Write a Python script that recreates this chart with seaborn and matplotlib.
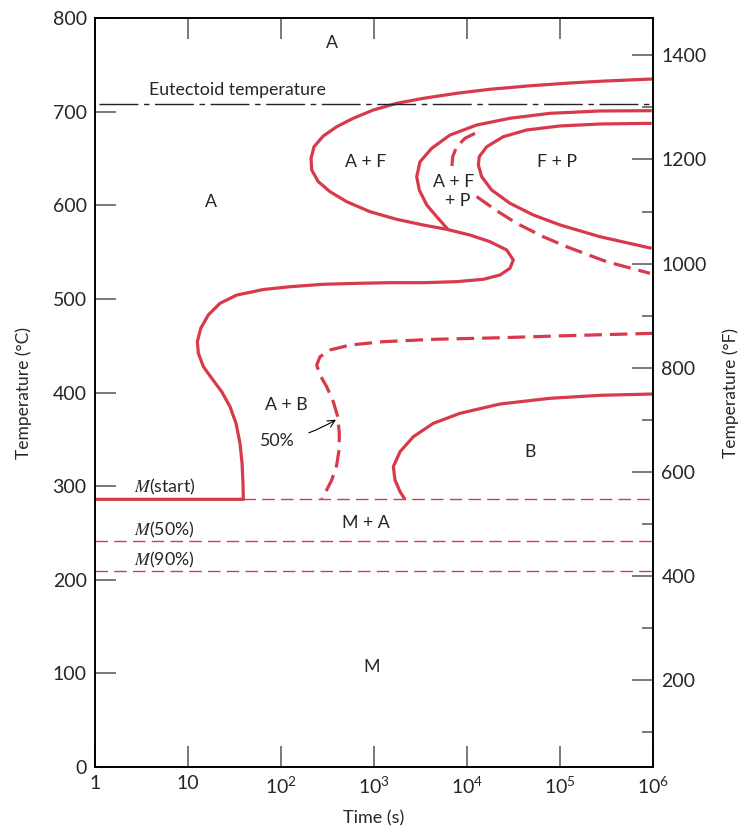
import numpy as np
import pandas as pd
import seaborn as sns
import matplotlib
matplotlib.use("Agg")
from matplotlib import pyplot as plt
from matplotlib.ticker import FixedLocator, NullLocator

# ---- data: log10(time / s) and temperature (deg C) ----
# ferrite start curve, running on into the bainite start curve and M(start)
start_logt = [6.000, 5.462, 5.108, 4.677, 4.247, 3.889, 3.530, 3.244, 2.992, 2.777, 2.599,
              2.455, 2.355, 2.323, 2.330, 2.401, 2.527, 2.706, 2.957, 3.244, 3.530, 3.782,
              4.032, 4.247, 4.427, 4.498, 4.462, 4.355, 4.175, 3.889, 3.530, 3.172, 2.814,
              2.455, 2.097, 1.810, 1.524, 1.344, 1.218, 1.137, 1.100, 1.111, 1.165, 1.255,
              1.362, 1.452, 1.516, 1.559, 1.581, 1.591, 1.595, 0.000]
start_temp = [734.9, 732.6, 730.6, 727.6, 723.9, 719.6, 714.2, 708.9, 701.7, 692.9, 683.9,
              674.0, 662.5, 650.2, 637.7, 625.2, 614.5, 603.8, 593.1, 585.0, 578.9, 574.3,
              568.2, 561.1, 552.2, 541.5, 532.7, 525.5, 520.9, 518.4, 517.3, 517.3, 516.6,
              515.6, 513.0, 510.0, 504.1, 495.3, 482.8, 468.6, 454.3, 441.9, 427.6, 415.2,
              400.9, 384.8, 367.1, 345.7, 324.4, 303.0, 285.9, 285.9]

# pearlite start curve
pearl_logt = [5.986, 5.430, 4.892, 4.462, 4.104, 3.817, 3.620, 3.495, 3.459, 3.487, 3.567,
              3.674, 3.790]
pearl_temp = [701.0, 700.7, 698.2, 692.9, 685.7, 675.0, 660.8, 646.5, 630.5, 616.3, 600.3,
              587.8, 574.8]

# pearlite 50% (dashed, broken by the label)
p50a_logt = [4.086, 3.978, 3.889, 3.846, 3.835]
p50a_temp = [676.8, 671.5, 662.5, 651.8, 637.7]
p50b_logt = [4.104, 4.319, 4.534, 4.820, 5.072, 5.502, 5.968]
p50b_temp = [609.2, 594.2, 580.7, 566.4, 555.7, 539.7, 527.3]

# pearlite finish curve
pfin_logt = [5.986, 5.430, 5.000, 4.642, 4.390, 4.212, 4.132, 4.122, 4.158, 4.265, 4.462,
             4.713, 5.000, 5.430, 5.986]
pfin_temp = [687.5, 686.8, 684.7, 680.4, 673.2, 662.5, 651.9, 643.0, 630.5, 616.3, 602.1,
             589.6, 579.0, 566.4, 554.0]

# bainite 50% (dashed)
b50_logt = [6.000, 5.072, 4.355, 3.638, 3.100, 2.742, 2.527, 2.419, 2.384, 2.419, 2.491,
            2.562, 2.610, 2.627, 2.624, 2.599, 2.545, 2.491, 2.438]
b50_temp = [463.2, 460.7, 458.5, 456.8, 454.3, 450.7, 445.4, 438.2, 429.4, 418.7, 406.2,
            390.2, 374.2, 356.4, 338.6, 322.6, 306.5, 295.9, 286.3]

# bainite finish curve
bfin_logt = [6.000, 5.430, 4.892, 4.355, 3.925, 3.638, 3.423, 3.280, 3.208, 3.226, 3.280,
             3.333]
bfin_temp = [398.4, 397.0, 393.8, 387.7, 377.8, 367.1, 352.8, 336.8, 320.8, 306.5, 294.0,
             285.9]

eutectoid = 708
m_start, m_50, m_90 = 286, 241, 209
m_start_end = 1.595

x_ticks = [1, 10, 1e2, 1e3, 1e4, 1e5, 1e6]
x_labels = ["1", "10", r"$\mathregular{10^2}$", r"$\mathregular{10^3}$",
            r"$\mathregular{10^4}$", r"$\mathregular{10^5}$", r"$\mathregular{10^6}$"]
c_ticks = list(range(0, 801, 100))
f_major = list(range(200, 1401, 200))
f_minor = list(range(100, 1401, 200))

RED = "#d8394c"

sns.set_theme(style="ticks")
plt.rcParams["font.family"] = ["Lato", "DejaVu Sans"]
plt.rcParams["mathtext.fontset"] = "stix"

fig, ax = plt.subplots(figsize=(7.39, 8.30), dpi=100)
fig.subplots_adjust(left=0.1286, right=0.8836, bottom=0.0759, top=0.9783)


def curve(logt, T, ls="-", lw=2.3):
    d = pd.DataFrame({"time": np.power(10.0, logt), "temp": T})
    sns.lineplot(data=d, x="time", y="temp", sort=False, estimator=None, ax=ax,
                 color=RED, lw=lw, linestyle=ls, solid_capstyle="butt",
                 solid_joinstyle="round", dash_joinstyle="round")


ax.set_xscale("log")
dash = (0, (5.5, 2.5))
curve(start_logt, start_temp)
curve(pearl_logt, pearl_temp)
curve(p50a_logt, p50a_temp, ls=dash)
curve(p50b_logt, p50b_temp, ls=dash)
curve(pfin_logt, pfin_temp)
curve(b50_logt, b50_temp, ls=dash)
curve(bfin_logt, bfin_temp)

# martensite lines and eutectoid
thin = (0, (9, 4.5))
sns.lineplot(x=[10 ** m_start_end, 1e6], y=[m_start, m_start], ax=ax, color=RED, lw=1.0,
             linestyle=thin)
sns.lineplot(x=[1, 1e6], y=[m_50, m_50], ax=ax, color=RED, lw=1.0, linestyle=thin)
sns.lineplot(x=[1, 1e6], y=[m_90, m_90], ax=ax, color=RED, lw=1.0, linestyle=thin)
sns.lineplot(x=[1.1, 1e6], y=[eutectoid, eutectoid], ax=ax, color="#222222", lw=1.0,
             linestyle=(0, (28, 4, 4, 4)))

ax.set_xlim(1, 1e6)
ax.set_ylim(0, 800)
ax.xaxis.set_major_locator(FixedLocator(x_ticks))
ax.xaxis.set_minor_locator(NullLocator())
ax.set_xticklabels(x_labels)
ax.set_yticks(c_ticks)
ax.set_xlabel("Time (s)", fontsize=13, labelpad=10)
ax.set_ylabel("Temperature (°C)", fontsize=12.5, labelpad=15)
ax.tick_params(axis="both", which="major", direction="in", length=15, width=1.1,
               color="#555555", labelsize=14, pad=6)
ax.tick_params(axis="x", top=True)
for s in ax.spines.values():
    s.set_linewidth(1.2)
    s.set_color("black")

ax2 = ax.twinx()
ax2.set_ylim(0 * 9 / 5 + 32, 800 * 9 / 5 + 32)
ax2.set_yticks(f_major)
ax2.yaxis.set_minor_locator(FixedLocator(f_minor))
ax2.tick_params(axis="y", which="major", direction="in", length=15, width=1.1,
                color="#555555", labelsize=14, pad=6)
ax2.tick_params(axis="y", which="minor", direction="in", length=8, width=1.1, color="#555555")
ax2.set_ylabel("Temperature (°F)", fontsize=12.5, labelpad=11)
for s in ax2.spines.values():
    s.set_linewidth(1.2)
    s.set_color("black")

# region labels
fs = 12.8
ax.text(3.5e2, 773, "A", fontsize=fs, ha="center", va="center")
ax.text(17.5, 603, "A", fontsize=fs, ha="center", va="center")
ax.text(8.1e2, 646, "A + F", fontsize=fs, ha="center", va="center")
ax.text(7.2e3, 625, "A + F", fontsize=fs, ha="center", va="center")
ax.text(8.0e3, 605, "+ P", fontsize=fs, ha="center", va="center")
ax.text(9.3e4, 646, "F + P", fontsize=fs, ha="center", va="center")
ax.text(1.13e2, 387, "A + B", fontsize=fs, ha="center", va="center")
ax.text(4.8e4, 336, "B", fontsize=fs, ha="center", va="center")
ax.text(8.1e2, 261, "M + A", fontsize=fs, ha="center", va="center")
ax.text(9.5e2, 107, "M", fontsize=fs, ha="center", va="center")
ax.text(34, 723, "Eutectoid temperature", fontsize=fs, ha="center", va="center")
ax.text(2.65, 299, r"$M$(start)", fontsize=fs, ha="left", va="center")
ax.text(2.65, 253, r"$M$(50%)", fontsize=fs, ha="left", va="center")
ax.text(2.65, 221, r"$M$(90%)", fontsize=fs, ha="left", va="center")
ax.annotate("50%", xy=(3.9e2, 371), xytext=(89, 348), fontsize=fs, ha="center", va="center",
            arrowprops=dict(arrowstyle="->", lw=0.8, color="black",
                            connectionstyle="arc3,rad=0.1", shrinkA=9, shrinkB=0))

fig.savefig("out.png", dpi=100)
